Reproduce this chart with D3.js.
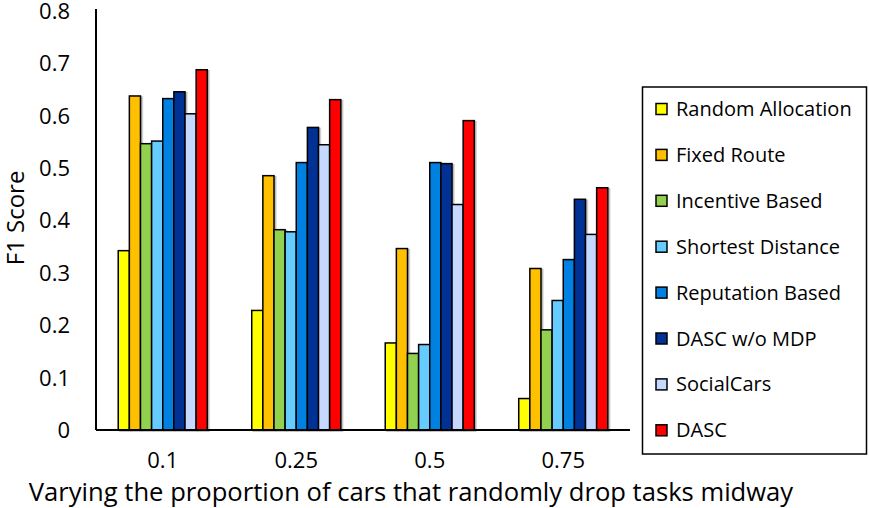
<!DOCTYPE html>
<html>
<head>
<meta charset="utf-8">
<script src="https://cdn.jsdelivr.net/npm/d3@7"></script>
<style>
  body { margin: 0; background: #fff; }
  text { font-family: "Open Sans", sans-serif; fill: #000; }
</style>
</head>
<body>
<div id="container"></div>
<script>
/* CONSTANTS AND GLOBALS */
const width = 869;
const height = 508;
const margin = { top: 10, bottom: 78, left: 96, right: 239 };

/* DATA */
const categories = ["0.1", "0.25", "0.5", "0.75"];
const methods = ["Random Allocation", "Fixed Route", "Incentive Based", "Shortest Distance",
  "Reputation Based", "DASC w/o MDP", "SocialCars", "DASC"];
const colors = ["#FFFF00", "#FFC000", "#92D050", "#66CCFF", "#0080E0", "#003296", "#C5D8FF", "#FF0000"];
const randomAllocation = [0.342, 0.228, 0.166, 0.060];
const fixedRoute       = [0.637, 0.485, 0.346, 0.308];
const incentiveBased   = [0.546, 0.382, 0.146, 0.191];
const shortestDistance = [0.551, 0.378, 0.163, 0.247];
const reputationBased  = [0.632, 0.510, 0.510, 0.325];
const dascNoMdp        = [0.645, 0.577, 0.508, 0.440];
const socialCars       = [0.603, 0.544, 0.430, 0.373];
const dasc             = [0.687, 0.630, 0.590, 0.462];
const yTicks = [0, 0.1, 0.2, 0.3, 0.4, 0.5, 0.6, 0.7, 0.8];

const series = [randomAllocation, fixedRoute, incentiveBased, shortestDistance,
  reputationBased, dascNoMdp, socialCars, dasc];

const table = categories.flatMap((c, i) =>
  methods.map((m, j) => ({ category: c, method: m, value: series[j][i] })));

/* SCALES */
const xScale = d3.scaleBand()
  .domain(categories)
  .range([margin.left, width - margin.right]);

const xInner = d3.scaleBand()
  .domain(methods)
  .range([0, xScale.bandwidth() * 0.667])
  .padding(0);

const yScale = d3.scaleLinear()
  .domain([0, 0.8])
  .range([height - margin.bottom, margin.top + 0.5]);

const color = d3.scaleOrdinal().domain(methods).range(colors);

/* HTML ELEMENTS */
const svg = d3.select("#container")
  .append("svg")
  .attr("width", width)
  .attr("height", height);

// soft shadow like the office chart
svg.append("defs").append("filter")
  .attr("id", "shadow")
  .attr("x", "-20%").attr("y", "-5%").attr("width", "160%").attr("height", "115%")
  .append("feDropShadow")
  .attr("dx", 1.5).attr("dy", 1)
  .attr("stdDeviation", 0.7)
  .attr("flood-color", "#000")
  .attr("flood-opacity", 0.3);

const groupOffset = (xScale.bandwidth() - xInner.range()[1]) / 2;

// bars
svg.append("g")
  .attr("filter", "url(#shadow)")
  .selectAll("rect")
  .data(table)
  .join("rect")
  .attr("x", d => xScale(d.category) + groupOffset + xInner(d.method))
  .attr("y", d => yScale(d.value))
  .attr("width", xInner.bandwidth())
  .attr("height", d => yScale(0) - yScale(d.value))
  .attr("fill", d => color(d.method))
  .attr("stroke", "#000")
  .attr("stroke-width", 1.5);

// y axis
const yAxis = d3.axisLeft(yScale)
  .tickValues(yTicks)
  .tickFormat(d => d === 0 ? "0" : d3.format(".1f")(d))
  .tickSize(0)
  .tickPadding(26);
const gy = svg.append("g")
  .attr("transform", `translate(${margin.left},0)`)
  .call(yAxis);
gy.select(".domain").attr("stroke", "#000").attr("stroke-width", 2)
  .attr("d", `M0,${margin.top - 1}V${yScale(0)}`);
gy.selectAll("text").style("font-size", "22px").attr("dy", "0.35em");

// x axis
const xAxis = d3.axisBottom(xScale).tickSize(0).tickPadding(22);
const gx = svg.append("g")
  .attr("transform", `translate(0,${yScale(0)})`)
  .call(xAxis);
gx.select(".domain").attr("stroke", "#000").attr("stroke-width", 2)
  .attr("d", `M${margin.left},0H${width - margin.right}`);
gx.selectAll("text").style("font-size", "22px");

// axis titles
svg.append("text")
  .attr("x", 411)
  .attr("y", 492)
  .attr("dy", "0.35em")
  .attr("text-anchor", "middle")
  .style("font-size", "25.6px")
  .text("Varying the proportion of cars that randomly drop tasks midway");

svg.append("text")
  .attr("transform", "translate(16,218) rotate(-90)")
  .attr("dy", "0.35em")
  .attr("text-anchor", "middle")
  .style("font-size", "24px")
  .text("F1 Score");

// legend
const legend = svg.append("g");
legend.append("rect")
  .attr("x", 642.5).attr("y", 87)
  .attr("width", 224).attr("height", 367)
  .attr("fill", "#fff").attr("stroke", "#000").attr("stroke-width", 1.5);

const item = legend.selectAll(".item")
  .data(methods)
  .join("g")
  .attr("class", "item")
  .attr("transform", (d, i) => `translate(656,${109 + i * 45.9})`);

item.append("rect")
  .attr("x", 0).attr("y", -5.5)
  .attr("width", 11).attr("height", 11)
  .attr("fill", d => color(d))
  .attr("stroke", "#000").attr("stroke-width", 1.5);

item.append("text")
  .attr("x", 20)
  .attr("dy", "0.35em")
  .style("font-size", "20px")
  .text(d => d);
</script>
</body>
</html>
